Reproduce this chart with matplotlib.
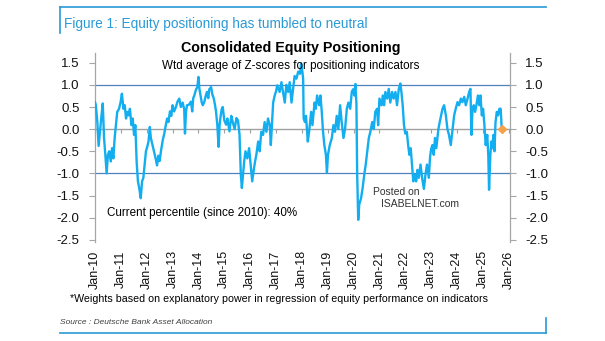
import numpy as np
import matplotlib
matplotlib.use("Agg")
import matplotlib.pyplot as plt
from matplotlib.lines import Line2D

plt.rcParams['font.family'] = ['Liberation Sans', 'DejaVu Sans']

# ---------------------------------------------
# Data (decimal year, weighted z-score)
# ---------------------------------------------
anos = [
    2010.00, 2010.03, 2010.09, 2010.14, 2010.19, 2010.24, 2010.30, 2010.35, 2010.40, 2010.45,
    2010.50, 2010.55, 2010.61, 2010.66, 2010.71, 2010.76, 2010.81, 2010.86, 2010.93, 2010.99,
    2011.04, 2011.10, 2011.15, 2011.20, 2011.25, 2011.30, 2011.35, 2011.41, 2011.46, 2011.51,
    2011.56, 2011.61, 2011.66, 2011.71, 2011.77, 2011.82, 2011.87, 2011.92, 2011.97, 2012.02,
    2012.07, 2012.12, 2012.16, 2012.22, 2012.28, 2012.34, 2012.40, 2012.45, 2012.50, 2012.55,
    2012.62, 2012.68, 2012.74, 2012.79, 2012.84, 2012.90, 2012.95, 2013.00, 2013.06, 2013.13,
    2013.19, 2013.26, 2013.32, 2013.39, 2013.45, 2013.48, 2013.52, 2013.56, 2013.63, 2013.71,
    2013.76, 2013.80, 2013.84, 2013.91, 2013.96, 2014.00, 2014.04, 2014.08, 2014.13, 2014.17,
    2014.23, 2014.28, 2014.33, 2014.38, 2014.42, 2014.49, 2014.54, 2014.59, 2014.64, 2014.68,
    2014.73, 2014.78, 2014.82, 2014.86, 2014.90, 2014.94, 2015.00, 2015.07, 2015.12, 2015.20,
    2015.27, 2015.33, 2015.40, 2015.47, 2015.53, 2015.59, 2015.64, 2015.68, 2015.73, 2015.77,
    2015.82, 2015.89, 2015.96, 2016.02, 2016.08, 2016.15, 2016.20, 2016.24, 2016.31, 2016.37,
    2016.43, 2016.50, 2016.56, 2016.63, 2016.69, 2016.76, 2016.80, 2016.85, 2016.89, 2016.95,
    2017.00, 2017.05, 2017.14, 2017.21, 2017.27, 2017.34, 2017.40, 2017.47, 2017.53, 2017.60,
    2017.66, 2017.72, 2017.79, 2017.86, 2017.93, 2017.97, 2018.02, 2018.05, 2018.07, 2018.12,
    2018.16, 2018.23, 2018.28, 2018.36, 2018.41, 2018.49, 2018.54, 2018.59, 2018.67, 2018.72,
    2018.77, 2018.82, 2018.87, 2018.93, 2018.97, 2019.01, 2019.08, 2019.16, 2019.22, 2019.28,
    2019.35, 2019.41, 2019.48, 2019.54, 2019.61, 2019.67, 2019.74, 2019.80, 2019.87, 2019.93,
    2019.98, 2020.03, 2020.07, 2020.11, 2020.14, 2020.18, 2020.22, 2020.29, 2020.35, 2020.42,
    2020.47, 2020.53, 2020.59, 2020.65, 2020.72, 2020.78, 2020.84, 2020.91, 2020.95, 2021.00,
    2021.08, 2021.13, 2021.18, 2021.23, 2021.30, 2021.36, 2021.42, 2021.49, 2021.55, 2021.62,
    2021.68, 2021.75, 2021.81, 2021.85, 2021.90, 2021.95, 2022.00, 2022.06, 2022.11, 2022.16,
    2022.21, 2022.26, 2022.31, 2022.37, 2022.42, 2022.47, 2022.52, 2022.59, 2022.65, 2022.72,
    2022.78, 2022.84, 2022.91, 2022.96, 2023.00, 2023.05, 2023.10, 2023.15, 2023.20, 2023.28,
    2023.36, 2023.44, 2023.50, 2023.57, 2023.63, 2023.69, 2023.76, 2023.82, 2023.89, 2023.95,
    2024.02, 2024.08, 2024.15, 2024.21, 2024.28, 2024.34, 2024.41, 2024.47, 2024.52, 2024.56,
    2024.60, 2024.65, 2024.70, 2024.75, 2024.81, 2024.86, 2024.91, 2024.96, 2025.01, 2025.06,
    2025.11, 2025.17, 2025.21, 2025.24, 2025.29, 2025.33, 2025.37, 2025.41, 2025.45, 2025.49,
    2025.54, 2025.59, 2025.64, 2025.69, 2025.73,
]
zscore = [
    0.61, 0.55, 0.16, -0.38, -0.06, 0.24, 0.58, -0.20, -0.58, -1.00,
    -0.58, -0.50, -0.73, -0.43, -0.66, -0.20, 0.09, 0.39, 0.46, 0.61,
    0.80, 0.46, 0.54, 0.24, 0.39, 0.31, 0.46, 0.09, 0.24, -0.13,
    0.09, -0.73, -1.18, -1.33, -1.56, -1.18, -1.10, -0.80, -0.50, -0.40,
    -0.28, 0.05, -0.20, -0.35, -0.50, -0.65, -0.82, -0.60, -0.72, -0.50,
    -0.25, -0.10, 0.10, 0.24, 0.16, 0.40, 0.30, 0.54, 0.40, 0.50,
    0.62, 0.69, 0.50, 0.60, 0.45, -0.10, 0.40, 0.54, 0.55, 0.62,
    0.40, 0.70, 0.76, 0.90, 0.95, 1.18, 0.90, 0.76, 0.60, 0.54,
    0.62, 0.75, 0.84, 0.70, 0.90, 0.95, 0.78, 0.70, 0.55, 0.40,
    0.10, -0.40, 0.10, 0.30, 0.45, 0.50, 0.20, 0.10, 0.24, -0.05,
    0.30, 0.15, 0.00, 0.25, 0.20, -0.13, -1.03, -1.33, -1.00, -0.73,
    -0.50, -0.66, -0.43, -0.80, -1.18, -0.88, -0.70, -0.58, -0.28, -0.50,
    -0.06, -0.13, 0.16, -0.06, 0.24, 0.09, -0.36, 0.20, 0.60, 0.76,
    0.85, 0.99, 0.84, 1.06, 0.84, 0.60, 1.00, 0.84, 1.06, 0.60,
    0.90, 1.20, 1.14, 1.30, 1.25, 1.48, 1.30, 1.14, 0.24, 0.16,
    0.30, -0.28, -0.06, 0.39, 0.09, 0.60, 0.46, 0.76, 0.54, 0.76,
    0.39, -0.06, -0.36, -0.58, -0.98, -0.58, -0.36, -0.20, 0.09, -0.06,
    0.30, 0.00, 0.54, 0.16, -0.20, 0.00, 0.46, 0.60, 0.46, 0.84,
    0.90, 0.76, 1.02, 0.58, -1.03, -2.05, -1.70, -1.56, -1.33, -1.00,
    -0.80, -0.50, -0.20, -0.06, 0.16, 0.00, 0.39, 0.46, 0.09, 0.69,
    0.54, 0.76, 0.54, 0.84, 0.69, 0.91, 0.60, 0.84, 0.69, 0.84,
    0.54, 0.91, 1.03, 0.84, 0.54, 0.09, -0.10, -0.06, -0.36, -0.58,
    -0.43, -0.80, -1.18, -1.03, -1.18, -0.92, -1.10, -0.80, -1.10, -1.35,
    -1.03, -0.80, -1.10, -0.62, -0.45, -0.36, -0.58, -0.20, -0.43, 0.00,
    0.24, 0.46, 0.54, 0.31, 0.00, -0.13, -0.36, -0.06, 0.31, 0.46,
    0.61, 0.54, 0.69, 0.61, 0.73, 0.54, 0.69, 0.84, 0.91, -0.13,
    0.46, 0.54, 0.39, 0.54, 0.76, 0.54, 0.76, 0.31, 0.46, 0.09,
    -0.36, -0.13, -0.58, -1.37, -0.58, -0.28, -0.43, -0.13, -0.50, 0.16,
    0.39, 0.31, 0.46, 0.46, 0.00,
]
anos_ticks = list(range(2010, 2027))
rotulos_x = [f"Jan-{a % 100:02d}" for a in anos_ticks]
y_ticks = [-2.5, -2.0, -1.5, -1.0, -0.5, 0.0, 0.5, 1.0, 1.5]

W, H = 605, 341
def fx(px):
    return px / W
def fy(py):
    return 1 - py / H

# ---------------------------------------------
# Figure
# ---------------------------------------------
fig = plt.figure(figsize=(W / 100, H / 100), dpi=100)
ax = fig.add_axes([fx(95), fy(242), (510 - 95) / W, (242 - 53) / H])

ax.axhline(1.0, color='#4f81bd', lw=0.9, zorder=1)
ax.axhline(-1.0, color='#4f81bd', lw=0.9, zorder=1)
ax.plot(anos, zscore, color='#13aef0', lw=1.7, zorder=3)
ax.plot(anos[-1], zscore[-1], marker='D', ms=4, color='#f5a04a', zorder=4)

ax.set_xlim(2010.0, 2026.05)
ax.set_ylim(-2.55, 1.72)

# zero line carries the small x ticks
ax.spines['bottom'].set_position(('data', 0))
ax.spines['bottom'].set_color('#a0a0a0')
ax.spines['bottom'].set_linewidth(1.0)
ax.spines['top'].set_visible(False)
for s in ['left', 'right']:
    ax.spines[s].set_color('#a6a6a6')
    ax.spines[s].set_linewidth(0.9)
ax.set_xticks(anos_ticks)
ax.tick_params(axis='x', direction='out', length=3, color='#a0a0a0', labelbottom=False)

ax.set_yticks(y_ticks)
ax.set_yticklabels([f"{v:.1f}" for v in y_ticks])
ax.tick_params(axis='y', left=True, right=True, labelleft=True, labelright=True,
               length=4, pad=7, color='#a6a6a6', labelsize=9.5, labelcolor='#111111')

sec = ax.secondary_xaxis('bottom')
sec.set_xticks(anos_ticks)
sec.set_xticklabels(rotulos_x, rotation=90)
sec.tick_params(length=0, pad=6, labelsize=9, labelcolor='#111111')
sec.spines['bottom'].set_visible(False)

# ---------------------------------------------
# Texts
# ---------------------------------------------
azul = '#2a9ad6'
fig.text(fx(64), fy(24), "Figure 1: Equity positioning has tumbled to neutral",
         color=azul, fontsize=9.8, va='center', ha='left')
fig.text(fx(291), fy(48), "Consolidated Equity Positioning", fontsize=10.3,
         fontweight='bold', ha='center', va='center')
fig.text(fx(291), fy(66), "Wtd average of Z-scores for positioning indicators",
         fontsize=8.4, ha='center', va='center')
fig.text(fx(107), fy(213), "Current percentile (since 2010): 40%", fontsize=8.4,
         ha='left', va='center')
fig.text(fx(70), fy(299),
         "*Weights based on explanatory power in regression of equity performance on indicators",
         fontsize=7.7, ha='left', va='center')
fig.text(fx(60), fy(322), "Source : Deutsche Bank Asset Allocation", fontsize=6,
         style='italic', color='#404040', ha='left', va='center')
fig.text(fx(373), fy(192), "Posted on", fontsize=7.5, color='#333333', ha='left', va='center')
fig.text(fx(381), fy(204), "ISABELNET.com", fontsize=7.5, color='#333333', ha='left', va='center')

# frame lines
for xs, ys in [([60, 546], [7, 7]), ([60, 60], [7, 33]),
               ([60, 546], [333, 333]), ([546, 546], [318, 333])]:
    fig.add_artist(Line2D([fx(v) for v in xs], [fy(v) for v in ys], color=azul, lw=1.2))

fig.savefig("out.png", dpi=100)
